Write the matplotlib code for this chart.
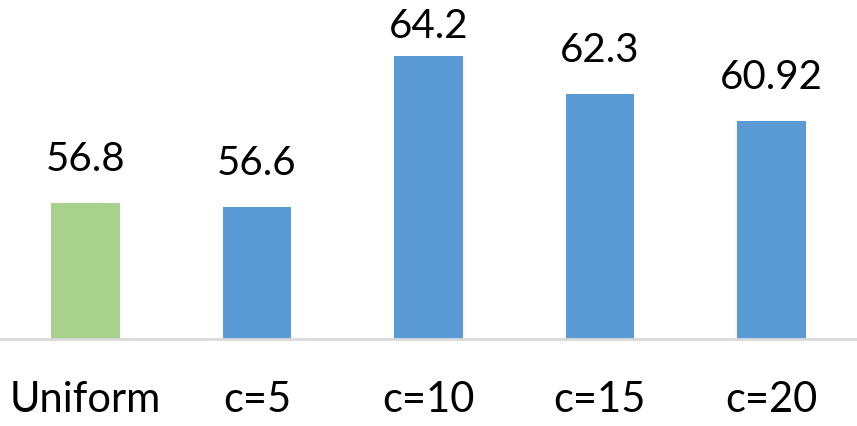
import matplotlib
matplotlib.use("Agg")
from matplotlib import pyplot as plt

categories = ["Uniform", "c=5", "c=10", "c=15", "c=20"]
values = [56.8, 56.6, 64.2, 62.3, 60.92]
labels = ["56.8", "56.6", "64.2", "62.3", "60.92"]
colors = ["#A9D18E", "#5B9BD5", "#5B9BD5", "#5B9BD5", "#5B9BD5"]

plt.rcParams['font.family'] = ['Lato', 'DejaVu Sans']

fig = plt.figure(figsize=(8.57, 4.26), dpi=100)
ax = fig.add_axes([0, 0.2042, 1, 0.7958])

x = range(len(categories))
bars = ax.bar(x, values, width=0.4, color=colors, bottom=0)

ax.set_ylim(50, 67)
ax.set_xlim(-0.5, 4.5)

# labels sit 32px above the bar, but are kept inside the figure (like excel does)
fig_h = fig.get_figheight() * fig.dpi
for xi, v, lab in zip(x, values, labels):
    top_px = ax.transData.transform((xi, v))[1]
    off = min(32, fig_h - 38 - top_px)
    ax.annotate(lab, (xi, v), xytext=(0, off), textcoords='offset pixels',
                ha='center', va='baseline', fontsize=29, color='black',
                annotation_clip=False)

ax.set_xticks(list(x))
ax.set_xticklabels(categories, fontsize=30)
ax.tick_params(axis='x', length=0, pad=30)
ax.set_yticks([])
for side in ['top', 'right', 'left']:
    ax.spines[side].set_visible(False)
ax.spines['bottom'].set_color('#D9D9D9')
ax.spines['bottom'].set_linewidth(2)

plt.savefig('out.png', dpi=100)
